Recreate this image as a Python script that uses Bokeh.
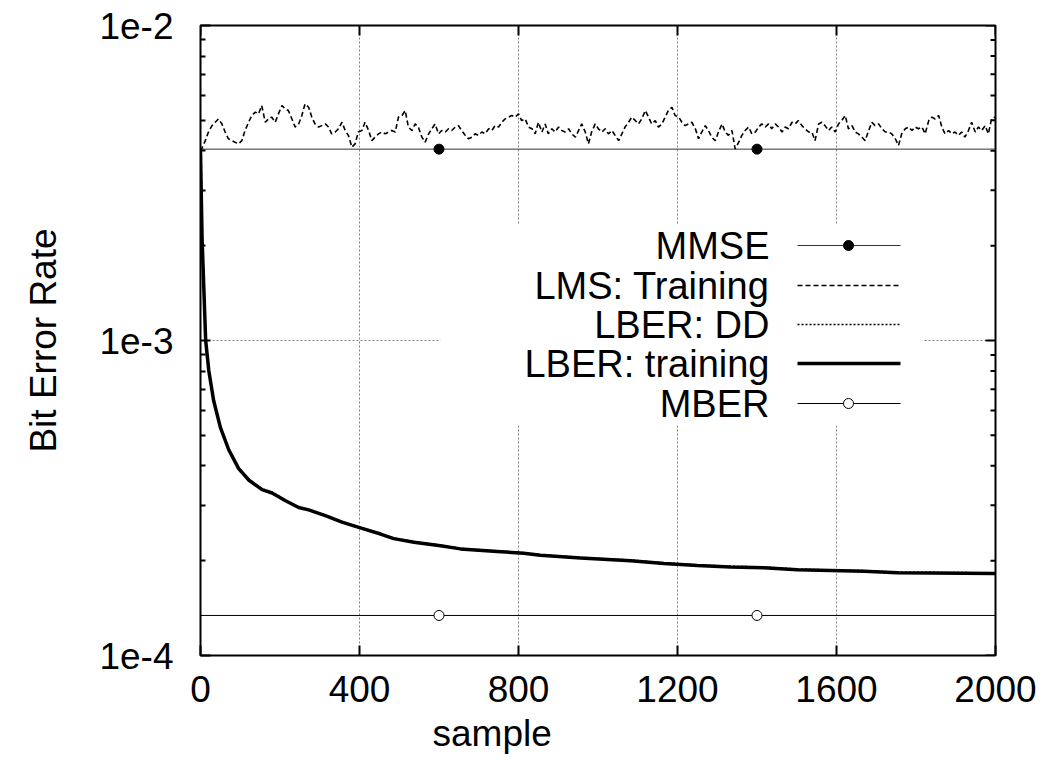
from bokeh.plotting import figure
from bokeh.models import Range1d, FixedTicker, CustomJSTickFormatter, Title
from bokeh.core.properties import value
from bokeh.embed import file_html
from bokeh.resources import INLINE

# ---------------- data ----------------
x_ticks = [0, 400, 800, 1200, 1600, 2000]
y_ticks = [1e-4, 1e-3, 1e-2]
y_tick_labels = ["1e-4", "1e-3", "1e-2"]
y_minor = [2e-4, 3e-4, 4e-4, 5e-4, 6e-4, 7e-4, 8e-4, 9e-4,
           2e-3, 3e-3, 4e-3, 5e-3, 6e-3, 7e-3, 8e-3, 9e-3]

x_title = "sample"
y_title = "Bit Error Rate"
legend_names = ["MMSE", "LMS: Training", "LBER: DD", "LBER: training", "MBER"]

span_x = [0, 2000]
marker_x = [600, 1400]
mmse_ber = 4.05e-3
mber_ber = 1.34e-4

lms_sample = [0, 3, 12, 20, 29, 37, 45, 54, 62, 70, 79, 87, 96, 104, 112, 121, 129, 138, 146, 154,
              163, 171, 179, 188, 196, 205, 213, 221, 230, 238, 247, 255, 263, 272, 280, 288, 297,
              305, 314, 322, 330, 339, 347, 356, 364, 372, 381, 389, 397, 406, 414, 423, 431, 439,
              448, 456, 465, 473, 481, 490, 498,
              507, 515, 523, 532, 540, 548, 557, 565, 574, 582, 590, 599, 607, 616, 624, 632, 641,
              649, 657, 666, 674, 683, 691, 699, 708, 716, 725, 733, 741, 750, 758, 766, 775, 783,
              792, 800, 808, 817, 825, 834, 842, 850, 859, 867, 875, 884, 892, 901, 909, 917, 926,
              934, 943, 951, 959, 968, 976, 984, 993, 1001,
              1010, 1018, 1026, 1035, 1043, 1052, 1060, 1068, 1077, 1085, 1094, 1102, 1110, 1119,
              1127, 1135, 1144, 1152, 1161, 1169, 1177, 1186, 1194, 1203, 1211, 1219, 1228, 1236,
              1245, 1253, 1261, 1270, 1278, 1286, 1295, 1303, 1312, 1320, 1328, 1337, 1345, 1354,
              1362, 1370, 1379, 1387, 1396, 1404, 1412, 1421, 1429, 1437, 1446, 1454, 1463, 1471,
              1479, 1488, 1496, 1504,
              1513, 1521, 1530, 1538, 1546, 1555, 1563, 1571, 1580, 1588, 1597, 1605, 1613, 1622,
              1630, 1639, 1647, 1655, 1664, 1672, 1681, 1689, 1697, 1706, 1714, 1723, 1731, 1739,
              1748, 1756, 1764, 1773, 1781, 1790, 1798, 1806, 1815, 1823, 1832, 1840, 1848, 1857,
              1865, 1873, 1882, 1890, 1898, 1907, 1915, 1923, 1932, 1940, 1949, 1957, 1965, 1974,
              1982, 1990, 1999]
# LMS BER in units of 1e-3
lms_ber_e3 = [4.00, 4.06, 4.31, 4.59, 4.81, 4.93, 5.05, 4.87, 4.59, 4.37, 4.31, 4.26, 4.21, 4.31,
              4.64, 4.93, 5.18, 5.31, 5.24, 5.57, 4.93, 5.05, 5.12, 4.93, 5.24, 5.57, 5.44, 5.37,
              5.05, 4.76, 4.87, 5.18, 5.64, 5.50, 5.12, 4.87, 4.76, 4.81, 4.87, 4.76, 4.53, 4.59,
              4.70, 4.93, 4.64, 4.48, 4.11, 4.21, 4.59, 4.64, 4.93, 4.64, 4.31, 4.42, 4.53, 4.59,
              4.53, 4.59, 4.64, 4.59, 5.12,
              5.18, 5.37, 4.76, 4.64, 4.87, 4.76, 4.42, 4.26, 4.53, 4.70, 4.87, 4.53, 4.64, 4.59,
              4.70, 4.64, 4.76, 4.81, 4.64, 4.48, 4.37, 4.42, 4.53, 4.48, 4.59, 4.53, 4.70, 4.64,
              4.81, 4.76, 4.93, 5.05, 5.12, 5.18, 5.12, 5.24, 4.99, 5.05, 4.76, 4.70, 4.53, 4.93,
              4.59, 4.87, 4.53, 4.70, 4.59, 4.76, 4.64, 4.59, 4.70, 4.53, 4.42, 4.64, 4.87, 4.59,
              4.21, 4.59, 4.87, 4.70,
              4.59, 4.70, 4.53, 4.64, 4.48, 4.31, 4.53, 4.76, 4.93, 5.12, 4.99, 4.87, 5.05, 5.37,
              5.12, 4.87, 4.99, 4.76, 4.87, 5.12, 5.37, 5.50, 5.18, 5.12, 4.93, 4.81, 4.87, 4.93,
              4.70, 4.37, 4.59, 4.81, 4.64, 4.42, 4.31, 4.59, 4.87, 4.59, 4.48, 4.64, 4.06, 4.26,
              4.48, 4.64, 4.76, 4.53, 4.59, 4.76, 4.87, 4.76, 4.87, 4.70, 4.87, 4.76, 4.59, 4.76,
              4.70, 4.93, 4.87, 4.99,
              4.81, 4.70, 4.59, 4.59, 4.31, 4.87, 4.93, 4.81, 4.64, 4.76, 4.59, 4.87, 4.99, 5.18,
              4.70, 4.81, 4.59, 4.53, 4.42, 4.31, 4.64, 4.93, 4.81, 4.87, 4.70, 4.59, 4.59, 4.53,
              4.37, 4.16, 4.53, 4.70, 4.76, 4.64, 4.76, 4.70, 4.76, 4.53, 4.99, 5.12, 5.05, 5.18,
              4.76, 4.53, 4.64, 4.53, 4.59, 4.48, 4.59, 4.42, 4.64, 4.93, 4.59, 4.76, 4.64, 4.81,
              4.53, 5.05, 5.12]

lber_sample = [0, 4, 13, 21, 33, 50, 71, 96, 122, 155, 180, 214, 247, 272, 314, 356, 398, 453,
               486, 537, 604, 654, 746, 813, 855, 956, 1082, 1166, 1250, 1333, 1417, 1501, 1585,
               1669, 1753, 2000]
# LBER BER in units of 1e-4
lber_train_e4 = [40.0, 21.0, 10.0, 8.0, 6.45, 5.3, 4.5, 3.92, 3.6, 3.36, 3.28, 3.1, 2.95, 2.9,
                 2.78, 2.65, 2.55, 2.43, 2.35, 2.29, 2.23, 2.18, 2.14, 2.11, 2.08, 2.04, 2.0,
                 1.96, 1.93, 1.91, 1.90, 1.87, 1.86, 1.85, 1.83, 1.82]
lber_dd_e4 = [40.0, 21.2, 10.1, 8.05, 6.5, 5.33, 4.52, 3.94, 3.62, 3.38, 3.30, 3.11, 2.96, 2.91,
              2.79, 2.66, 2.56, 2.44, 2.36, 2.3, 2.24, 2.19, 2.15, 2.12, 2.09, 2.05, 2.01,
              1.97, 1.94, 1.92, 1.91, 1.88, 1.87, 1.86, 1.84, 1.83]

lms_ber = [v * 1e-3 for v in lms_ber_e3]
lber_train_ber = [v * 1e-4 for v in lber_train_e4]
lber_dd_ber = [v * 1e-4 for v in lber_dd_e4]

# ---------------- layout (page pixels of the frame) ----------------
FL, FR, FT, FB = 200, 995, 25, 655
X0, X1 = 0, 2000
LY0, LY1 = -4, -2


def px_x(px):
    return X0 + (px - FL) / (FR - FL) * (X1 - X0)


def px_y(py):
    return 10 ** (LY1 - (py - FT) / (FB - FT) * (LY1 - LY0))


FONT = "Liberation Sans"
FS = "37px"
FS_LEG = "38px"

p = figure(frame_width=FR - FL, frame_height=FB - FT,
           min_border_left=FL, min_border_top=FT,
           min_border_right=46, min_border_bottom=110,
           x_range=Range1d(X0, X1), y_range=Range1d(1e-4, 1e-2),
           y_axis_type="log", output_backend="svg", toolbar_location=None)

p.outline_line_color = "black"
p.outline_line_width = 2
p.background_fill_color = "white"
p.border_fill_color = "white"

# axes
xt = FixedTicker(ticks=x_ticks)
yt = FixedTicker(ticks=y_ticks, minor_ticks=y_minor)
yfmt = CustomJSTickFormatter(args=dict(yvals=y_ticks, ylabs=y_tick_labels), code="""
const i = yvals.findIndex(t => Math.abs(Math.log10(t) - Math.log10(tick)) < 1e-6);
return i >= 0 ? ylabs[i] : '';
""")

xa = p.xaxis[0]
xa.ticker = xt
ya = p.yaxis[0]
ya.ticker = yt
ya.formatter = yfmt
ya.axis_label = y_title

for ax in (xa, ya):
    ax.axis_line_color = None
    ax.major_tick_in = 10
    ax.major_tick_out = 0
    ax.major_tick_line_width = 2
    ax.major_tick_line_color = "black"
    ax.minor_tick_in = 5
    ax.minor_tick_out = 0
    ax.minor_tick_line_width = 2
    ax.major_label_text_font = FONT
    ax.major_label_text_font_size = FS
    ax.major_label_text_color = "black"
    ax.axis_label_text_font = FONT
    ax.axis_label_text_font_size = FS
    ax.axis_label_text_font_style = "normal"
    ax.axis_label_text_color = "black"
xa.minor_tick_line_color = None
xa.major_label_standoff = 20
ya.major_label_standoff = 27
ya.axis_label_standoff = 32

# x title placed as in the reference (left of the frame centre)
p.add_layout(Title(text=x_title, align="left", offset=232, standoff=13,
                   text_font=FONT, text_font_size=FS, text_font_style="normal",
                   text_color="black"), "below")

# mirrored ticks on the top and right borders (drawn from the tick arrays)
tick_major_px = 10
tick_minor_px = 5
p.segment(x0=x_ticks, y0=[10 ** LY1] * len(x_ticks),
          x1=x_ticks, y1=[px_y(FT + tick_major_px)] * len(x_ticks),
          line_color="black", line_width=2)
p.segment(x0=[X1] * len(y_ticks), y0=y_ticks,
          x1=[px_x(FR - tick_major_px)] * len(y_ticks), y1=y_ticks,
          line_color="black", line_width=2)
p.segment(x0=[X1] * len(y_minor), y0=y_minor,
          x1=[px_x(FR - tick_minor_px)] * len(y_minor), y1=y_minor,
          line_color="black", line_width=2)

# grid
p.xgrid.ticker = xt
p.ygrid.ticker = FixedTicker(ticks=y_ticks)
for g in (p.xgrid, p.ygrid):
    g.grid_line_color = "#808080"
    g.grid_line_dash = "2 2"
    g.grid_line_width = 1

# styles
st_mmse = dict(line_color="#333333", line_width=1)
st_lms = dict(line_color="black", line_width=1.6, line_dash="5 3")
st_dd = dict(line_color="black", line_width=1.5, line_dash="2 2")
st_train = dict(line_color="black", line_width=3.5)
st_mber = dict(line_color="black", line_width=1)

# series
p.line(span_x, [mmse_ber] * len(span_x), **st_mmse)
p.scatter(marker_x, [mmse_ber] * len(marker_x), size=10, marker="circle",
          fill_color="black", line_color="black")
p.line(lms_sample, lms_ber, **st_lms)
p.line(lber_sample, lber_dd_ber, **st_dd)
p.line(lber_sample, lber_train_ber, **st_train)
p.line(span_x, [mber_ber] * len(span_x), **st_mber)
p.scatter(marker_x, [mber_ber] * len(marker_x), size=10, marker="circle",
          fill_color="white", line_color="black", line_width=1)

# legend (manual: text on left, sample on right, opaque box)
p.quad(left=[px_x(440)], right=[px_x(922)], top=[px_y(224)], bottom=[px_y(425)],
       fill_color="white", line_color=None)
rows = [245, 285, 324, 363, 403]
text_right = 769
g0, g1, gm = 797, 900, 848
p.text(x=[px_x(text_right)] * len(rows), y=[px_y(r) for r in rows], text=legend_names,
       text_align="right", text_baseline="middle", text_font=value(FONT),
       text_font_size=FS_LEG, text_color="black")
styles = [st_mmse, st_lms, st_dd, st_train, st_mber]
for r, st in zip(rows, styles):
    p.line([px_x(g0), px_x(g1)], [px_y(r), px_y(r)], **st)
p.scatter([px_x(gm)], [px_y(rows[0])], size=10, marker="circle", fill_color="black", line_color="black")
p.scatter([px_x(gm)], [px_y(rows[4])], size=10, marker="circle", fill_color="white", line_color="black")

open("out.html", "w").write(file_html(p, INLINE, "BER"))
